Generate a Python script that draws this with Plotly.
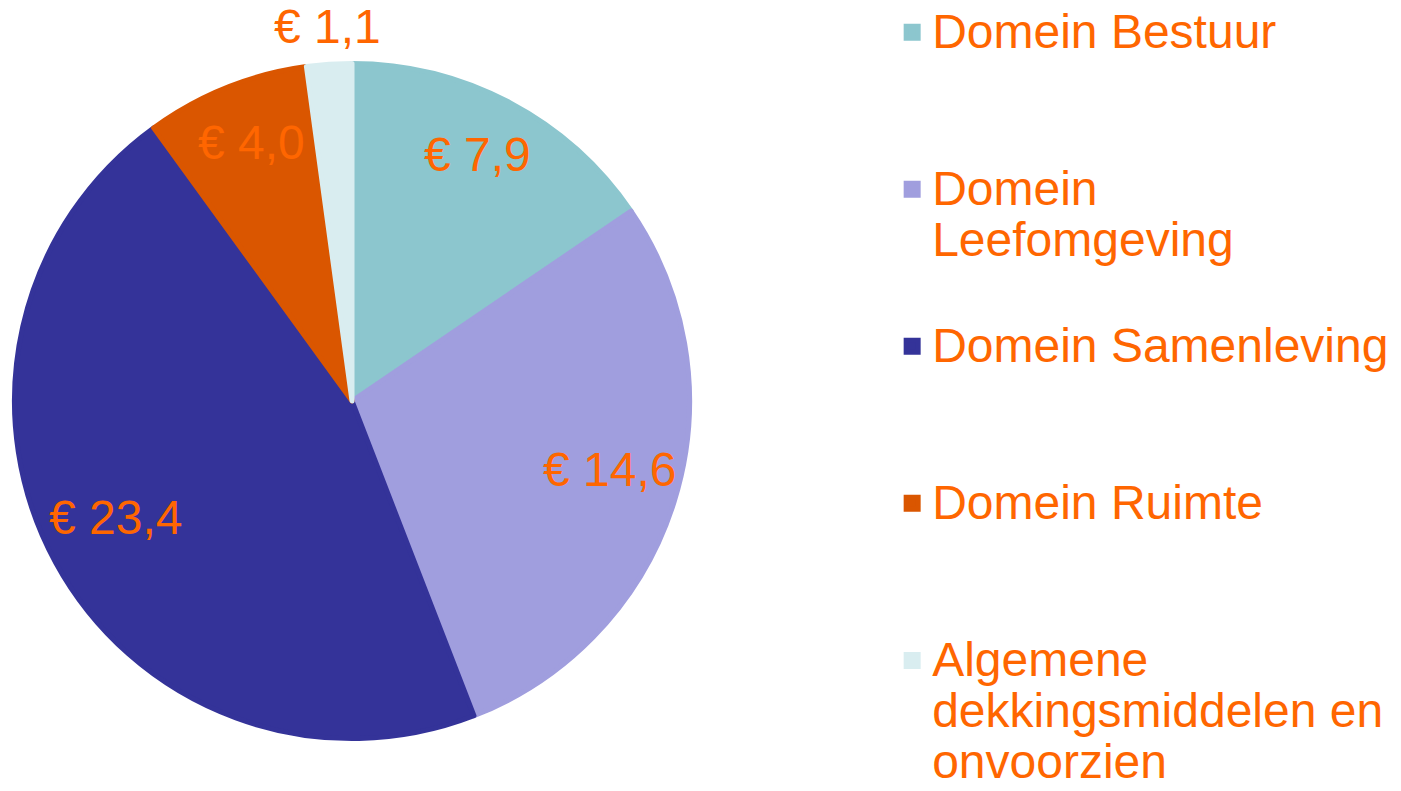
import math
import plotly.graph_objects as go

categories = [
    "Domein Bestuur",
    "Domein<br>Leefomgeving",
    "Domein Samenleving",
    "Domein Ruimte",
    "Algemene<br>dekkingsmiddelen en<br>onvoorzien",
]
values = [7.9, 14.6, 23.4, 4.0, 1.1]
value_labels = ["€ 7,9", "€ 14,6", "€ 23,4", "€ 4,0", "€ 1,1"]
colors = ["#8CC6CE", "#A09EDE", "#343399", "#DA5600", "#D9EDF0"]
label_outside = [False, False, False, False, True]

ORANGE = "#FF6600"
FONT = "Liberation Sans, Arial, sans-serif"
W, H = 1401, 791
TXT = 48            # visible text size
LEG_BASE = 39.5     # legend base size -> line spacing
LEG_LINES = 3       # every legend entry occupies the same number of lines


def legend_label(name):
    lines = [f"<span style='font-size:{TXT}px'>{ln}</span>" for ln in name.split("<br>")]
    lines += [" "] * (LEG_LINES - len(lines))
    return "<br>".join(lines)


legend_labels = [legend_label(c) for c in categories]

# pie placement (paper fractions)
dom_x = [0.00785, 0.49465]
dom_y = [0.06700, 0.92920]

fig = go.Figure(
    go.Pie(
        labels=legend_labels,
        values=values,
        textinfo="none",
        marker=dict(colors=colors, line=dict(width=5, color=colors)),
        sort=False,
        direction="clockwise",
        rotation=0,
        hoverinfo="value",
        domain=dict(x=dom_x, y=dom_y),
    )
)

# value labels placed at each slice's mid-angle (Excel "best fit" style)
cx = (dom_x[0] + dom_x[1]) / 2
cy = (dom_y[0] + dom_y[1]) / 2
r_px = (dom_x[1] - dom_x[0]) * W / 2
total = sum(values)
cum = 0.0
for v, lab, out in zip(values, value_labels, label_outside):
    mid = (cum + v / 2) / total * 2 * math.pi
    cum += v
    rf = 1.08 if out else 0.79
    fig.add_annotation(
        x=cx + rf * r_px * math.sin(mid) / W,
        y=cy + rf * r_px * math.cos(mid) / H,
        xref="paper",
        yref="paper",
        text=lab,
        showarrow=False,
        xanchor="center",
        yanchor="middle",
        yshift=11,
        font=dict(family=FONT, color=ORANGE, size=TXT),
    )

fig.update_layout(
    width=W,
    height=H,
    margin=dict(l=0, r=0, t=0, b=0),
    paper_bgcolor="white",
    plot_bgcolor="white",
    font=dict(family=FONT, color=ORANGE, size=LEG_BASE),
    legend=dict(
        x=0.6368,
        y=1.010,
        xanchor="left",
        yanchor="top",
        valign="top",
        font=dict(family=FONT, color=ORANGE, size=LEG_BASE),
        bgcolor="rgba(0,0,0,0)",
        traceorder="normal",
        maxheight=2000,
    ),
    showlegend=True,
)

fig.write_html(
    "out.html",
    config={"displayModeBar": False},
    post_script="document.body.style.margin='0';document.body.style.overflow='hidden';",
)
